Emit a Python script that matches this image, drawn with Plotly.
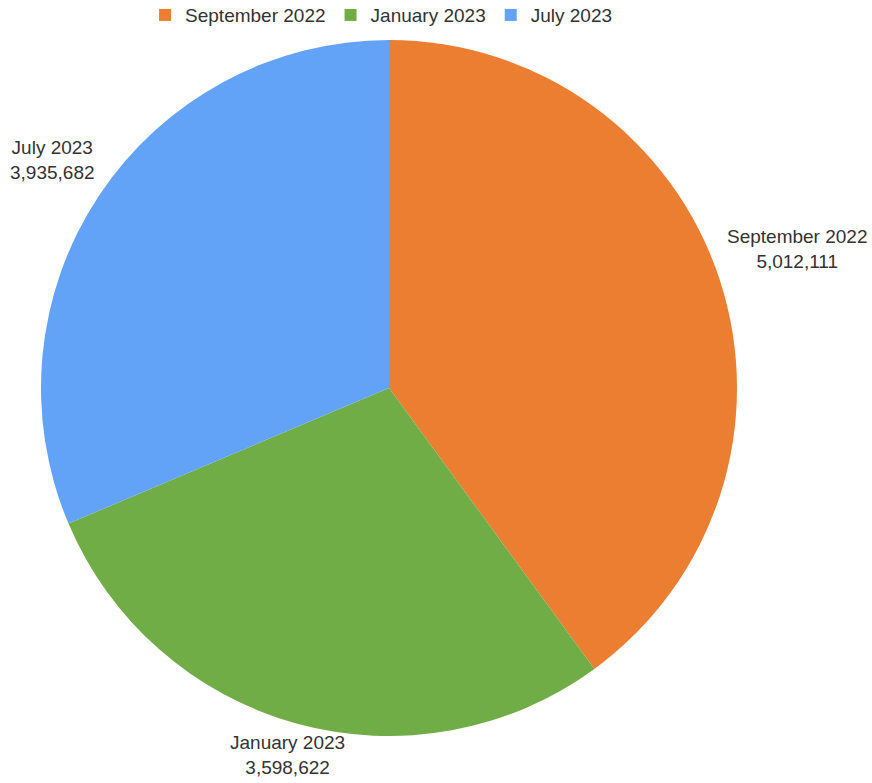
import plotly.graph_objects as go

labels = ["September 2022", "January 2023", "July 2023"]
values = [5012111, 3598622, 3935682]
colors = ["#EC7E32", "#70AD47", "#62A3F8"]

W, H = 872, 783
cx, cy, r = 389, 388, 348

# label centres (pixels) for the outside data labels
label_px = [(797, 249), (287, 755), (52, 160)]

fig = go.Figure(go.Pie(
    labels=labels,
    values=values,
    marker=dict(colors=colors, line=dict(width=0)),
    sort=False,
    direction="clockwise",
    rotation=0,
    textinfo="none",
    hoverinfo="label+value+percent",
    domain=dict(x=[(cx - r) / W, (cx + r) / W],
                y=[(H - cy - r) / H, (H - cy + r) / H]),
))

FONT = "Liberation Sans, Arial, sans-serif"
for lab, val, (px, py) in zip(labels, values, label_px):
    fig.add_annotation(
        x=px / W, y=1 - py / H, xref="paper", yref="paper",
        text=f"{lab}<br>{val:,}",
        showarrow=False, xanchor="center", yanchor="middle",
        font=dict(size=19, color="#333333", family=FONT),
    )

fig.update_layout(
    width=W, height=H,
    margin=dict(l=0, r=0, t=0, b=0, autoexpand=False),
    paper_bgcolor="white",
    plot_bgcolor="white",
    font=dict(family=FONT, size=19, color="#333333"),
    legend=dict(orientation="h", x=0.437, xanchor="center", y=1.005, yanchor="top",
                font=dict(size=19, color="#333333"),
                traceorder="normal"),
    showlegend=True,
)

fig.write_html("out.html", config={"displayModeBar": False},
               post_script="document.body.style.margin='0';document.body.style.padding='0';")
